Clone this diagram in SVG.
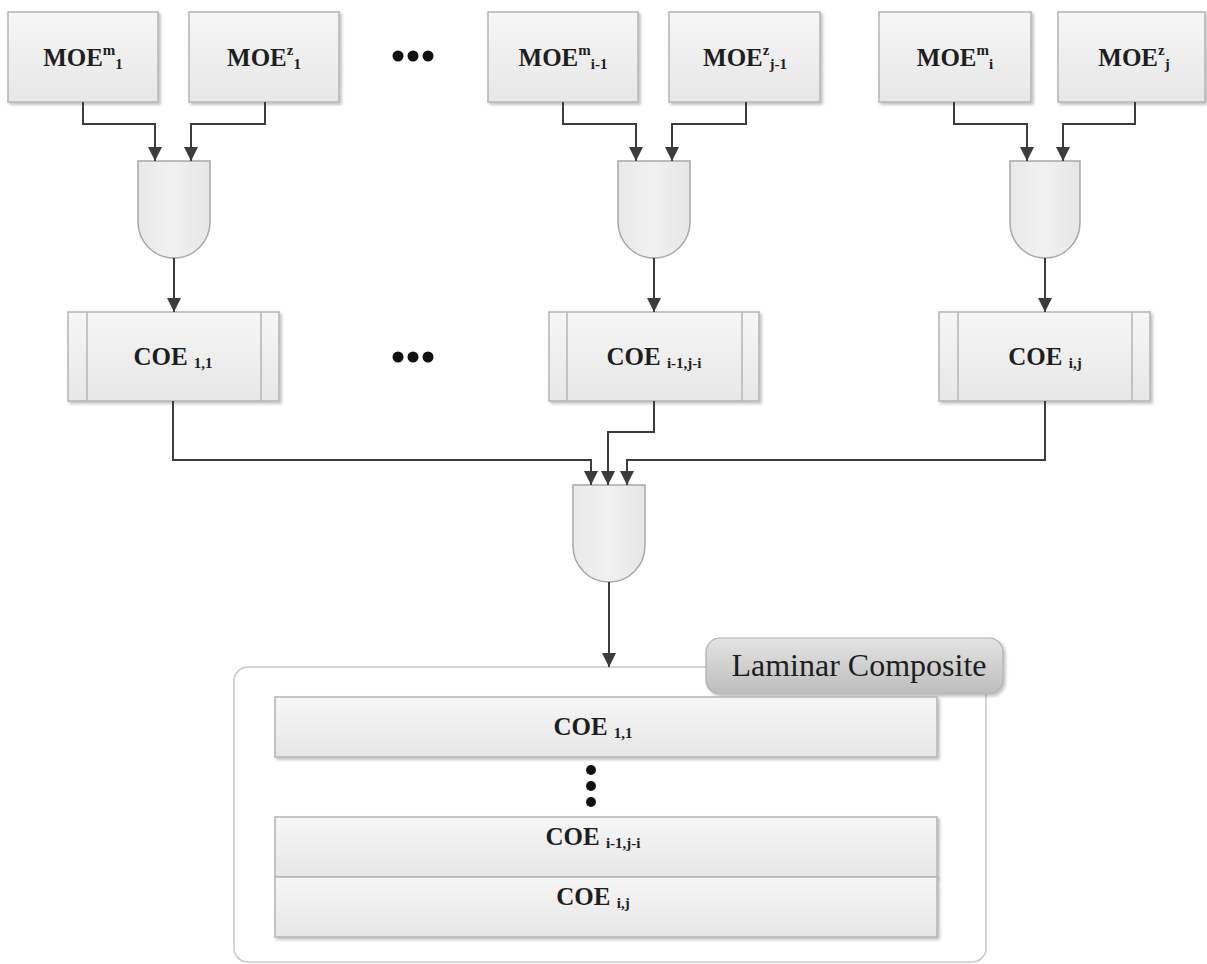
<svg xmlns="http://www.w3.org/2000/svg" width="1207" height="964" viewBox="0 0 1207 964">
<defs>
<linearGradient id="boxg" x1="0" y1="0" x2="0" y2="1">
<stop offset="0" stop-color="#f6f6f6"/>
<stop offset="1" stop-color="#e7e7e7"/>
</linearGradient>
<linearGradient id="gateg" x1="0" y1="0" x2="1" y2="0">
<stop offset="0" stop-color="#e9e9e9"/>
<stop offset="0.5" stop-color="#f1f1f1"/>
<stop offset="1" stop-color="#e6e6e6"/>
</linearGradient>
<linearGradient id="labelg" x1="0" y1="0" x2="0" y2="1">
<stop offset="0" stop-color="#e4e4e4"/>
<stop offset="1" stop-color="#bcbcbc"/>
</linearGradient>
<filter id="sh" x="-10%" y="-10%" width="120%" height="130%">
<feDropShadow dx="2" dy="2" stdDeviation="1.5" flood-color="#000" flood-opacity="0.25"/>
</filter>
<marker id="arr" viewBox="0 0 14 14" refX="14" refY="7" markerWidth="14" markerHeight="14" markerUnits="userSpaceOnUse" orient="auto">
<path d="M0,0 L14,7 L0,14 Z" fill="#3c3c3c"/>
</marker>
</defs>
<style>
.box{fill:url(#boxg);stroke:#b4b4b4;stroke-width:1.5;filter:url(#sh)}
.gate{fill:url(#gateg);stroke:#a8a8a8;stroke-width:1.5}
.inner{stroke:#b4b4b4;stroke-width:1.5}
.lbl{font-family:"Liberation Serif","Times New Roman",serif;font-weight:bold;font-size:25px;fill:#1e1e1e;text-anchor:middle}
.sup{font-size:15px}
.sub{font-size:15px}
.conn{fill:none;stroke:#3c3c3c;stroke-width:2}
.dot{fill:#111}
</style>

<g id="moe-m-1">
<rect class="box" x="8" y="12" width="150" height="90"/>
<text class="lbl" x="83" y="66">MOE<tspan class="sup" dy="-11">m</tspan><tspan class="sub" dy="14">1</tspan></text>
</g>
<g id="moe-z-1">
<rect class="box" x="189" y="12" width="150" height="90"/>
<text class="lbl" x="264" y="66">MOE<tspan class="sup" dy="-11">z</tspan><tspan class="sub" dy="14">1</tspan></text>
</g>
<g id="dots-top">
<circle class="dot" cx="398" cy="56" r="5.5"/>
<circle class="dot" cx="413" cy="56" r="5.5"/>
<circle class="dot" cx="428" cy="56" r="5.5"/>
</g>
<g id="moe-m-i-1">
<rect class="box" x="488" y="12" width="150" height="90"/>
<text class="lbl" x="563" y="66">MOE<tspan class="sup" dy="-11">m</tspan><tspan class="sub" dy="14">i-1</tspan></text>
</g>
<g id="moe-z-j-1">
<rect class="box" x="669" y="12" width="151" height="90"/>
<text class="lbl" x="745" y="66">MOE<tspan class="sup" dy="-11">z</tspan><tspan class="sub" dy="14">j-1</tspan></text>
</g>
<g id="moe-m-i">
<rect class="box" x="879" y="12" width="152" height="90"/>
<text class="lbl" x="955" y="66">MOE<tspan class="sup" dy="-11">m</tspan><tspan class="sub" dy="14">i</tspan></text>
</g>
<g id="moe-z-j">
<rect class="box" x="1058" y="12" width="147" height="90"/>
<text class="lbl" x="1134" y="66">MOE<tspan class="sup" dy="-11">z</tspan><tspan class="sub" dy="14">j</tspan></text>
</g>

<g id="gate-1">
<path class="gate" d="M138,161 H210 V222 A36,36 0 0 1 138,222 Z"/>
</g>
<g id="gate-2">
<path class="gate" d="M618,161 H690 V222 A36,36 0 0 1 618,222 Z"/>
</g>
<g id="gate-3">
<path class="gate" d="M1010,161 H1080 V223 A35,35 0 0 1 1010,223 Z"/>
</g>

<g id="coe-1-1">
<rect class="box" x="68" y="312" width="211" height="89"/>
<line class="inner" x1="87" y1="312" x2="87" y2="401"/>
<line class="inner" x1="261" y1="312" x2="261" y2="401"/>
<text class="lbl" x="173" y="365">COE <tspan class="sub" dy="3">1,1</tspan></text>
</g>
<g id="dots-mid">
<circle class="dot" cx="398" cy="357" r="5.5"/>
<circle class="dot" cx="413" cy="357" r="5.5"/>
<circle class="dot" cx="428" cy="357" r="5.5"/>
</g>
<g id="coe-i-1-j-i">
<rect class="box" x="549" y="312" width="210" height="89"/>
<line class="inner" x1="567" y1="312" x2="567" y2="401"/>
<line class="inner" x1="742" y1="312" x2="742" y2="401"/>
<text class="lbl" x="654" y="365">COE <tspan class="sub" dy="3">i-1,j-i</tspan></text>
</g>
<g id="coe-i-j">
<rect class="box" x="939" y="312" width="211" height="89"/>
<line class="inner" x1="958" y1="312" x2="958" y2="401"/>
<line class="inner" x1="1132" y1="312" x2="1132" y2="401"/>
<text class="lbl" x="1045" y="365">COE <tspan class="sub" dy="3">i,j</tspan></text>
</g>

<g id="gate-4">
<path class="gate" d="M573,485 H645 V546 A36,36 0 0 1 573,546 Z"/>
</g>

<g id="laminar-composite">
<rect x="234" y="667" width="752" height="295" rx="14" fill="#fff" stroke="#c8c8c8" stroke-width="1.5"/>
<rect x="706" y="638" width="297" height="56" rx="14" fill="url(#labelg)" stroke="#b0b0b0" stroke-width="1.2" filter="url(#sh)"/>
<text x="859" y="676" font-family="'Liberation Serif','Times New Roman',serif" font-size="32" fill="#1e1e1e" text-anchor="middle">Laminar Composite</text>
<rect class="box" x="275" y="697" width="662" height="60"/>
<text class="lbl" x="593" y="735">COE <tspan class="sub" dy="3">1,1</tspan></text>
<circle class="dot" cx="591" cy="770" r="5"/>
<circle class="dot" cx="591" cy="786" r="5"/>
<circle class="dot" cx="591" cy="802" r="5"/>
<rect class="box" x="275" y="817" width="662" height="60"/>
<text class="lbl" x="593" y="845">COE <tspan class="sub" dy="3">i-1,j-i</tspan></text>
<rect class="box" x="275" y="877" width="662" height="60"/>
<text class="lbl" x="593" y="905">COE <tspan class="sub" dy="3">i,j</tspan></text>
</g>

<g id="connectors">
<path class="conn" d="M83,102 V124 H155 V161" marker-end="url(#arr)"/>
<path class="conn" d="M265,102 V124 H191 V161" marker-end="url(#arr)"/>
<path class="conn" d="M563,102 V124 H636 V161" marker-end="url(#arr)"/>
<path class="conn" d="M746,102 V124 H672 V161" marker-end="url(#arr)"/>
<path class="conn" d="M954,102 V124 H1027 V161" marker-end="url(#arr)"/>
<path class="conn" d="M1135,102 V124 H1063 V161" marker-end="url(#arr)"/>
<path class="conn" d="M174,258 V312" marker-end="url(#arr)"/>
<path class="conn" d="M654,258 V312" marker-end="url(#arr)"/>
<path class="conn" d="M1045,258 V312" marker-end="url(#arr)"/>
<path class="conn" d="M173,401 V460 H591 V485" marker-end="url(#arr)"/>
<path class="conn" d="M654,401 V432 H608 V485" marker-end="url(#arr)"/>
<path class="conn" d="M1045,401 V460 H627 V485" marker-end="url(#arr)"/>
<path class="conn" d="M609,582 V667" marker-end="url(#arr)"/>
</g>
</svg>
